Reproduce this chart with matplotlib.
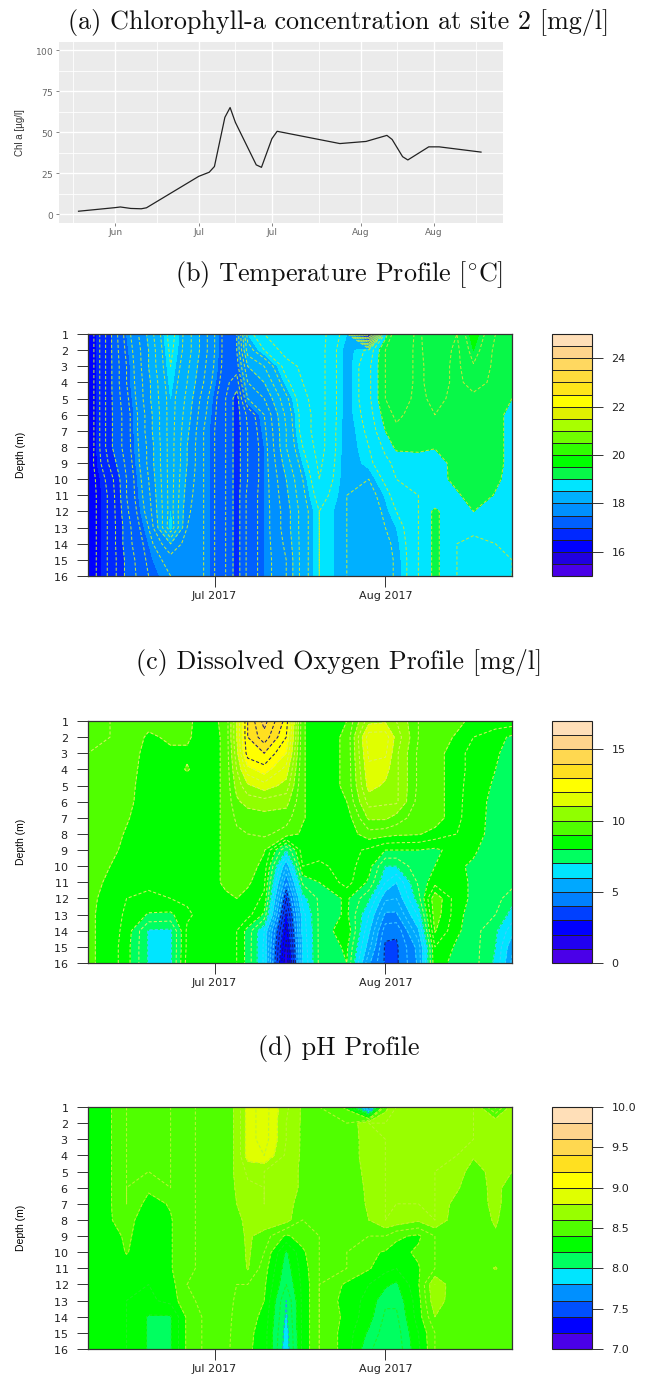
import numpy as np
import pandas as pd
import matplotlib
matplotlib.use("Agg")
import matplotlib.pyplot as plt
import matplotlib.dates as mdates

W, H = 647, 1376
plt.rcParams["mathtext.fontset"] = "cm"
plt.rcParams["axes.formatter.use_mathtext"] = True
plt.rcParams["lines.dashed_pattern"] = [3, 2]

# chlorophyll line
chl_dates = ["2017-06-08", "2017-06-15", "2017-06-16", "2017-06-18", "2017-06-20", "2017-06-21", "2017-07-01",
             "2017-07-03", "2017-07-04", "2017-07-06", "2017-07-07", "2017-07-08", "2017-07-12", "2017-07-13",
             "2017-07-15", "2017-07-16", "2017-07-28", "2017-08-02", "2017-08-06", "2017-08-07", "2017-08-09",
             "2017-08-10", "2017-08-14", "2017-08-16", "2017-08-24"]
chl_vals = [1.7, 3.9, 4.3, 3.4, 3.2, 3.8, 23, 25.5, 29, 59, 65, 56, 30, 28.5, 46, 50.5, 43, 44.3, 48, 45.5, 35, 33,
            41, 41, 37.8]
chl_ticks = ["2017-06-15", "2017-07-01", "2017-07-15", "2017-08-01", "2017-08-15"]
chl_minor = ["2017-06-07", "2017-06-23", "2017-07-08", "2017-07-24", "2017-08-08", "2017-08-23"]
chl_labels = ["Jun", "Jul", "Jul", "Aug", "Aug"]

# profile grids, rows are depth 1-16, columns are the sampling dates
dates = ["2017-06-08", "2017-06-12", "2017-06-15", "2017-06-19", "2017-06-23", "2017-06-26", "2017-06-29",
         "2017-07-03", "2017-07-05", "2017-07-07", "2017-07-10", "2017-07-14", "2017-07-17", "2017-07-20",
         "2017-07-25", "2017-07-29", "2017-08-01", "2017-08-03", "2017-08-07", "2017-08-10", "2017-08-14",
         "2017-08-17", "2017-08-21", "2017-08-24"]
depths = list(range(1, 17))

temp = [
    [16.2, 16.95, 17.5, 18.05, 18.7, 18.3, 17.9, 17.3, 17.4, 18.5, 18.8, 18.9, 18.85, 18.9, 18.5, 15.8, 18.9, 19.4, 19.15, 19.4, 19.2, 19.6, 19.2, 19.1],
    [16.2, 16.95, 17.45, 18.0, 18.65, 18.3, 17.9, 17.3, 17.4, 18.3, 18.6, 18.9, 18.85, 18.9, 18.42, 18.65, 19.2, 19.35, 19.15, 19.35, 19.15, 19.5, 19.15, 19.1],
    [16.2, 16.95, 17.4, 18.0, 18.6, 18.25, 17.85, 17.3, 17.3, 18.0, 18.2, 18.7, 18.85, 18.9, 18.42, 18.75, 19.2, 19.35, 19.15, 19.3, 19.15, 19.38, 19.15, 19.1],
    [16.2, 16.95, 17.4, 17.95, 18.55, 18.2, 17.8, 17.25, 17.1, 17.8, 18.0, 18.55, 18.8, 18.9, 18.42, 18.75, 19.2, 19.35, 19.15, 19.3, 19.15, 19.28, 19.15, 19.1],
    [16.2, 16.95, 17.35, 17.95, 18.5, 18.15, 17.7, 17.2, 16.9, 17.6, 17.8, 18.35, 18.75, 18.9, 18.42, 18.75, 19.2, 19.3, 19.15, 19.25, 19.15, 19.15, 19.15, 19.0],
    [16.2, 16.95, 17.3, 17.9, 18.5, 18.1, 17.65, 17.2, 16.9, 17.25, 17.6, 18.25, 18.7, 18.9, 18.42, 18.7, 19.1, 19.25, 19.1, 19.2, 19.15, 19.15, 19.1, 18.9],
    [16.2, 16.95, 17.3, 17.9, 18.5, 18.05, 17.6, 17.2, 16.9, 17.2, 17.55, 18.2, 18.7, 18.9, 18.4, 18.65, 19.0, 19.15, 19.1, 19.15, 19.15, 19.15, 19.1, 18.9],
    [16.2, 16.95, 17.3, 17.85, 18.5, 18.0, 17.6, 17.2, 16.9, 17.2, 17.5, 18.2, 18.6, 18.9, 18.4, 18.6, 18.85, 19.05, 19.05, 19.02, 19.15, 19.15, 19.1, 18.9],
    [16.25, 16.85, 17.25, 17.85, 18.5, 18.0, 17.6, 17.2, 16.9, 17.2, 17.5, 18.1, 18.5, 18.85, 18.4, 18.55, 18.75, 18.85, 18.9, 18.85, 19.12, 19.15, 19.1, 18.9],
    [16.25, 16.7, 17.2, 17.8, 18.5, 17.95, 17.6, 17.2, 16.9, 17.2, 17.5, 18.0, 18.4, 18.8, 18.4, 18.4, 18.65, 18.8, 18.85, 18.85, 19.1, 19.15, 19.05, 18.9],
    [16.25, 16.65, 17.2, 17.75, 18.5, 17.9, 17.6, 17.2, 16.9, 17.25, 17.5, 17.95, 18.35, 18.7, 18.4, 18.3, 18.52, 18.7, 18.8, 18.8, 18.95, 19.15, 18.98, 18.9],
    [16.25, 16.65, 17.15, 17.7, 18.5, 17.85, 17.6, 17.2, 16.9, 17.25, 17.5, 17.9, 18.3, 18.6, 18.4, 18.25, 18.45, 18.6, 18.8, 19.05, 18.8, 19.0, 18.95, 18.85],
    [16.25, 16.65, 17.1, 17.6, 18.55, 17.8, 17.6, 17.2, 16.9, 17.25, 17.5, 17.9, 18.3, 18.6, 18.4, 18.25, 18.4, 18.5, 18.8, 19.05, 18.8, 18.85, 18.8, 18.8],
    [16.25, 16.65, 17.1, 17.5, 18.0, 17.7, 17.6, 17.2, 16.9, 17.25, 17.5, 17.85, 18.3, 18.6, 18.4, 18.2, 18.35, 18.45, 18.8, 19.05, 18.8, 18.75, 18.8, 18.8],
    [16.25, 16.65, 17.05, 17.45, 17.7, 17.7, 17.6, 17.2, 16.9, 17.25, 17.5, 17.8, 18.3, 18.6, 18.4, 18.2, 18.35, 18.42, 18.8, 19.05, 18.8, 18.7, 18.75, 18.8],
    [16.25, 16.65, 17.05, 17.4, 17.6, 17.7, 17.6, 17.2, 16.9, 17.25, 17.5, 17.8, 18.3, 18.6, 18.4, 18.2, 18.35, 18.42, 18.8, 19.05, 18.8, 18.7, 18.7, 18.8],
]

oxygen = [
    [9.6, 9.5, 9.4, 9.2, 9.3, 9.1, 8.8, 9.1, 11.0, 13.0, 14.2, 12.8, 9.05, 8.7, 9.0, 10.8, 10.9, 10.5, 9.5, 9.5, 9.2, 8.8, 8.8, 8.8],
    [9.6, 9.5, 9.4, 8.9, 9.1, 9.1, 8.7, 9.1, 11.0, 13.0, 13.8, 12.5, 9.05, 8.7, 9.1, 11.8, 11.8, 10.8, 9.5, 9.4, 8.9, 8.5, 8.2, 7.9],
    [9.5, 9.5, 9.3, 8.8, 8.9, 8.9, 8.7, 9.1, 10.8, 12.8, 13.0, 12.0, 9.05, 8.7, 9.1, 11.6, 11.6, 10.6, 9.4, 9.3, 8.6, 8.4, 8.1, 7.7],
    [9.5, 9.4, 9.3, 8.7, 8.7, 9.05, 8.7, 9.1, 10.5, 11.8, 12.3, 11.3, 9.05, 8.7, 9.1, 11.4, 11.2, 10.6, 9.4, 9.3, 8.6, 8.4, 8.0, 7.7],
    [9.4, 9.4, 9.2, 8.7, 8.7, 8.7, 8.7, 9.1, 10.2, 10.9, 11.3, 10.8, 9.05, 8.7, 9.1, 11.2, 10.9, 10.6, 9.4, 9.3, 8.6, 8.35, 7.9, 7.7],
    [9.4, 9.3, 9.15, 8.7, 8.7, 8.7, 8.7, 9.1, 9.9, 10.2, 10.3, 10.2, 9.05, 8.7, 9.0, 10.7, 10.6, 10.6, 9.3, 9.3, 8.6, 8.3, 7.8, 7.7],
    [9.4, 9.3, 9.05, 8.7, 8.7, 8.7, 8.7, 9.1, 9.6, 9.7, 9.8, 9.7, 9.05, 8.7, 8.7, 10.1, 10.1, 9.8, 9.2, 9.3, 8.6, 8.25, 7.8, 7.7],
    [9.3, 9.2, 8.95, 8.7, 8.7, 8.7, 8.7, 9.1, 9.4, 9.5, 9.6, 9.3, 8.9, 8.7, 8.7, 9.3, 9.2, 9.1, 9.05, 8.8, 8.5, 8.2, 7.8, 7.7],
    [9.3, 9.1, 8.9, 8.7, 8.7, 8.7, 8.7, 9.1, 9.3, 9.3, 9.05, 7.0, 8.8, 8.7, 8.7, 8.4, 8.0, 8.0, 8.0, 7.9, 8.2, 8.05, 7.8, 7.7],
    [9.2, 9.0, 8.8, 8.6, 8.7, 8.7, 8.7, 9.1, 9.25, 9.3, 8.8, 5.5, 8.5, 8.4, 8.7, 8.2, 7.0, 7.0, 7.9, 8.0, 8.05, 7.95, 7.8, 7.7],
    [9.2, 8.9, 8.7, 8.6, 8.7, 8.7, 8.7, 9.1, 9.2, 9.1, 8.6, 4.5, 7.6, 8.0, 8.7, 7.9, 6.5, 6.0, 7.6, 8.3, 8.1, 7.95, 7.8, 7.7],
    [9.15, 8.8, 8.5, 8.4, 8.5, 8.6, 8.7, 8.9, 9.0, 8.8, 8.4, 3.5, 6.8, 7.6, 8.1, 7.1, 5.6, 5.5, 7.3, 9.4, 8.2, 7.9, 7.7, 7.2],
    [9.1, 8.8, 8.4, 7.95, 7.9, 8.4, 8.7, 8.8, 8.8, 8.7, 7.9, 2.8, 6.3, 7.6, 8.1, 6.5, 4.9, 4.9, 6.6, 9.3, 8.2, 7.7, 7.5, 6.8],
    [9.1, 8.8, 8.3, 6.95, 6.9, 8.6, 8.7, 8.8, 8.5, 7.8, 6.5, 2.3, 6.2, 7.6, 8.4, 6.1, 4.2, 4.1, 5.9, 9.05, 8.1, 7.7, 7.1, 6.2],
    [9.1, 8.8, 8.2, 6.95, 6.9, 8.6, 8.7, 8.8, 8.5, 7.8, 6.4, 1.8, 6.1, 7.6, 8.1, 5.7, 3.9, 3.9, 5.2, 8.5, 7.9, 7.7, 7.0, 5.6],
    [9.1, 8.8, 8.2, 6.95, 6.9, 8.7, 8.7, 8.8, 8.5, 7.8, 6.4, 1.5, 6.0, 7.6, 8.0, 5.1, 3.9, 3.9, 5.1, 8.4, 7.7, 7.7, 6.9, 5.4],
]

ph = [
    [8.3, 8.39, 8.5, 8.5, 8.5, 8.49, 8.51, 8.55, 8.62, 8.85, 8.95, 8.72, 8.58, 8.5, 8.38, 7.6, 8.55, 8.7, 8.7, 8.7, 8.7, 8.7, 8.38, 8.65],
    [8.3, 8.39, 8.5, 8.5, 8.5, 8.49, 8.51, 8.55, 8.62, 8.85, 8.95, 8.7, 8.58, 8.5, 8.5, 8.7, 8.7, 8.7, 8.7, 8.7, 8.7, 8.7, 8.68, 8.65],
    [8.3, 8.39, 8.5, 8.5, 8.5, 8.49, 8.51, 8.55, 8.62, 8.85, 8.95, 8.7, 8.58, 8.5, 8.5, 8.68, 8.7, 8.7, 8.7, 8.7, 8.7, 8.7, 8.68, 8.65],
    [8.3, 8.39, 8.5, 8.5, 8.5, 8.49, 8.51, 8.55, 8.62, 8.85, 8.9, 8.68, 8.58, 8.5, 8.5, 8.68, 8.7, 8.7, 8.7, 8.7, 8.7, 8.62, 8.68, 8.65],
    [8.3, 8.39, 8.5, 8.5, 8.5, 8.49, 8.51, 8.55, 8.62, 8.72, 8.7, 8.65, 8.58, 8.5, 8.5, 8.65, 8.7, 8.7, 8.7, 8.7, 8.68, 8.52, 8.67, 8.6],
    [8.3, 8.39, 8.5, 8.42, 8.5, 8.49, 8.51, 8.55, 8.61, 8.68, 8.7, 8.65, 8.58, 8.5, 8.5, 8.63, 8.7, 8.7, 8.7, 8.7, 8.62, 8.5, 8.66, 8.5],
    [8.3, 8.39, 8.5, 8.36, 8.41, 8.49, 8.51, 8.55, 8.6, 8.66, 8.7, 8.68, 8.5, 8.5, 8.5, 8.62, 8.7, 8.7, 8.7, 8.7, 8.55, 8.5, 8.65, 8.5],
    [8.3, 8.39, 8.46, 8.3, 8.39, 8.49, 8.51, 8.55, 8.58, 8.62, 8.68, 8.64, 8.5, 8.5, 8.5, 8.6, 8.7, 8.68, 8.62, 8.7, 8.52, 8.5, 8.62, 8.5],
    [8.3, 8.33, 8.43, 8.3, 8.39, 8.49, 8.51, 8.55, 8.55, 8.62, 8.55, 8.38, 8.45, 8.5, 8.5, 8.5, 8.5, 8.42, 8.38, 8.5, 8.5, 8.5, 8.58, 8.5],
    [8.3, 8.3, 8.41, 8.3, 8.39, 8.49, 8.51, 8.55, 8.52, 8.62, 8.5, 8.18, 8.38, 8.5, 8.5, 8.42, 8.39, 8.36, 8.42, 8.5, 8.5, 8.5, 8.5, 8.5],
    [8.3, 8.3, 8.33, 8.3, 8.39, 8.49, 8.51, 8.55, 8.5, 8.61, 8.45, 8.14, 8.35, 8.5, 8.5, 8.41, 8.33, 8.3, 8.39, 8.5, 8.5, 8.5, 8.61, 8.5],
    [8.3, 8.3, 8.3, 8.3, 8.36, 8.5, 8.51, 8.55, 8.5, 8.5, 8.42, 8.1, 8.33, 8.5, 8.38, 8.3, 8.22, 8.18, 8.39, 8.7, 8.5, 8.5, 8.5, 8.5],
    [8.3, 8.3, 8.3, 8.28, 8.33, 8.49, 8.51, 8.55, 8.48, 8.47, 8.4, 8.0, 8.33, 8.5, 8.35, 8.27, 8.12, 8.12, 8.36, 8.68, 8.5, 8.5, 8.5, 8.5],
    [8.3, 8.3, 8.3, 8.19, 8.19, 8.42, 8.51, 8.55, 8.46, 8.45, 8.37, 7.98, 8.33, 8.5, 8.37, 8.24, 8.08, 8.08, 8.35, 8.6, 8.5, 8.5, 8.5, 8.5],
    [8.3, 8.3, 8.3, 8.19, 8.19, 8.42, 8.51, 8.55, 8.44, 8.43, 8.35, 7.95, 8.33, 8.5, 8.35, 8.18, 8.05, 8.05, 8.3, 8.5, 8.5, 8.5, 8.5, 8.5],
    [8.3, 8.3, 8.3, 8.19, 8.19, 8.42, 8.51, 8.55, 8.42, 8.42, 8.35, 7.93, 8.33, 8.5, 8.35, 8.12, 8.03, 8.03, 8.28, 8.5, 8.5, 8.5, 8.5, 8.5],
]

# colour bands, bottom to top
temp_colors = ["#4a00e8", "#2000e0", "#0000ff", "#0028ff", "#0060ff", "#0090ff", "#00b0ff", "#00e5ff", "#08f848",
               "#00ff00", "#30ff00", "#70ff00", "#a8ff00", "#e0f000", "#ffff00", "#ffe61a", "#ffdc3c", "#ffd860",
               "#ffd48c", "#ffdfb8"]
oxy_colors = ["#4a00e8", "#2000f0", "#0000ff", "#0040ff", "#0080ff", "#00a8ff", "#00e5ff", "#00ff60", "#00ff00",
              "#50ff00", "#90ff00", "#e0ff00", "#ffff00", "#ffe020", "#ffd850", "#ffd48c", "#ffdfb8"]
ph_colors = ["#4a00e8", "#0000ff", "#0050ff", "#0090ff", "#00e5ff", "#00ff60", "#00ff00", "#50ff00", "#98ff00",
             "#e0ff00", "#ffff00", "#ffe020", "#ffd850", "#ffd48c", "#ffdfb8"]


def px_axes(x0, x1, y0, y1):
    return plt.gcf().add_axes([x0 / W, 1 - y1 / H, (x1 - x0) / W, (y1 - y0) / H])


def line_colour(v, low_line, low_color, mid_below, mid_color, high_line, line_color):
    if v < low_line:
        return low_color
    if v < mid_below:
        return mid_color
    if v >= high_line:
        return "#18186e"
    return line_color


def profile(top, values, lo, hi, colors, ticks, ticklabels, low_line, low_color, mid_below, mid_color, high_line,
            line_color, step):
    bottom = top + 242
    levels = np.linspace(lo, hi, len(colors) + 1)
    x = pd.to_datetime(dates)
    ax = px_axes(88, 512, top, bottom)
    cf = ax.contourf(x, depths, values, levels=levels, colors=colors)
    line_levels = np.arange(lo, hi, step)
    line_cols = [line_colour(v, low_line, low_color, mid_below, mid_color, high_line, line_color) for v in line_levels]
    ax.contour(x, depths, values, levels=line_levels, colors=line_cols, linewidths=0.75, linestyles="dashed")
    ax.set_ylim(16, 1)
    ax.set_yticks(depths)
    ax.set_xticks(pd.to_datetime(["2017-07-01", "2017-08-01"]))
    ax.xaxis.set_major_formatter(mdates.DateFormatter("%b %Y"))
    ax.tick_params(axis="both", labelsize=8, length=8, width=0.7, color="#333333", labelcolor="#222222")
    ax.tick_params(axis="x", pad=3)
    ax.tick_params(axis="y", pad=6)
    ax.set_ylabel("Depth (m)", fontsize=7.5, family=["Liberation Sans", "DejaVu Sans"], labelpad=0)
    ax.yaxis.set_label_coords(-62 / 424, 0.5)
    for s in ax.spines.values():
        s.set_linewidth(0.9)
        s.set_color("#333333")

    cax = px_axes(552, 592, top, bottom)
    cb = plt.colorbar(cf, cax=cax, drawedges=True, spacing="proportional")
    cb.set_ticks(ticks)
    cb.set_ticklabels(ticklabels)
    cb.ax.tick_params(labelsize=8, length=8, width=0.7, pad=6, color="#333333", labelcolor="#222222")
    cb.dividers.set_color("#222222")
    cb.dividers.set_linewidth(0.7)
    cb.outline.set_linewidth(0.8)
    cb.outline.set_edgecolor("#222222")


fig = plt.figure(figsize=(W / 100, H / 100), dpi=100)

# --- titles ---
titles = ["(a) Chlorophyll-a concentration at site 2 [mg/l]", r"(b) Temperature Profile [$^{\circ}$C]",
          "(c) Dissolved Oxygen Profile [mg/l]", "(d) pH Profile"]
title_y = [22, 275, 662, 1048]
for t, y in zip(titles, title_y):
    fig.text(339 / W, 1 - y / H, t, ha="center", va="center", fontsize=18.8, family="cmr10", color="#111111")

# --- chlorophyll panel ---
ax = px_axes(58.7, 503, 42, 222.7)
ax.set_facecolor("#EBEBEB")
ax.plot(pd.to_datetime(chl_dates), chl_vals, color="#222222", linewidth=0.9, zorder=3)
ax.set_xlim(pd.Timestamp("2017-06-04 05:00"), pd.Timestamp("2017-08-28 05:00"))
ax.set_ylim(-5.3, 105)
ax.set_yticks([0, 25, 50, 75, 100])
ax.set_yticks([12.5, 37.5, 62.5, 87.5], minor=True)
ax.set_xticks(pd.to_datetime(chl_ticks))
ax.set_xticklabels(chl_labels)
ax.set_xticks(pd.to_datetime(chl_minor), minor=True)
ax.grid(which="major", color="white", linewidth=1.0)
ax.grid(which="minor", color="white", linewidth=0.6)
ax.set_axisbelow(True)
ax.tick_params(which="minor", length=0)
ax.tick_params(which="major", labelsize=6.5, length=2, width=0.5, color="#555555", labelcolor="#666666", pad=1.5)
for s in ax.spines.values():
    s.set_visible(False)
ax.set_ylabel("Chl a [µg/l]", fontsize=7, family=["Liberation Sans", "DejaVu Sans"], color="#333333", labelpad=0)
ax.yaxis.set_label_coords(-34 / 444, 0.5)

# --- profiles ---
profile(334, temp, 15, 25, temp_colors, [16, 18, 20, 22, 24], ["16", "18", "20", "22", "24"],
        16, "#18186e", 16, "#18186e", 30, "#c0e83a", 0.2)
profile(721, oxygen, 0, 17, oxy_colors, [0, 5, 10, 15], ["0", "5", "10", "15"],
        4.5, "#18186e", 7.5, "#40d0ff", 12.5, "#d8f060", 0.5)
profile(1107, ph, 7, 10, ph_colors, [7, 7.5, 8, 8.5, 9, 9.5, 10],
        ["7.0", "7.5", "8.0", "8.5", "9.0", "9.5", "10.0"],
        8.05, "#20a0e8", 8.35, "#20f020", 12, "#b8f430", 0.1)

plt.savefig("out.png", dpi=100)
plt.close()
